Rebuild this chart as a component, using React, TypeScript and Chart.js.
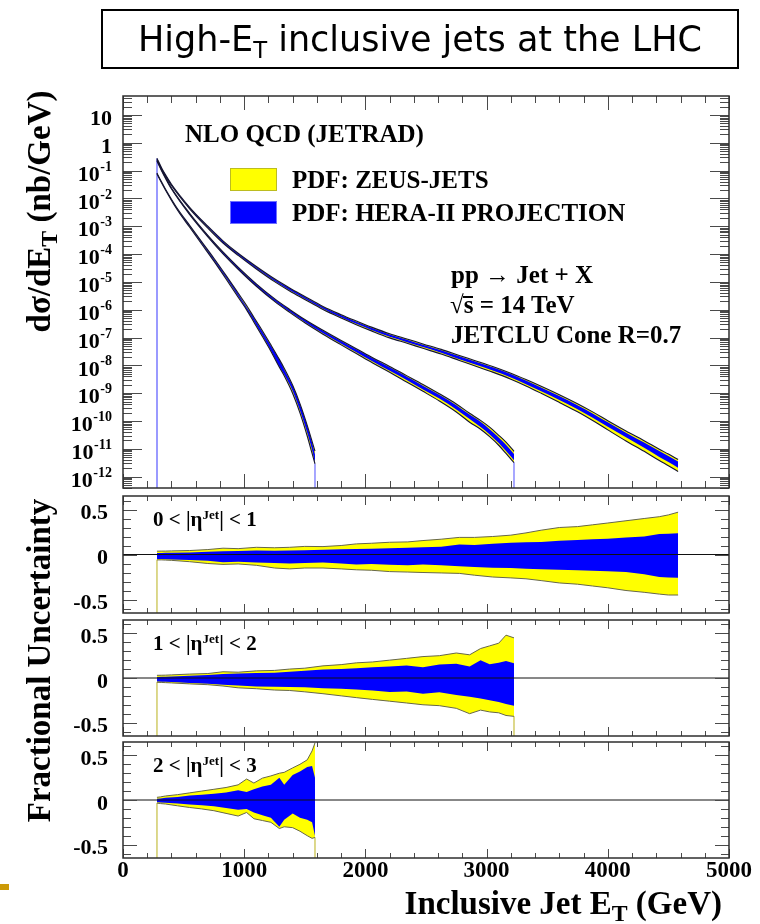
import { useEffect, useRef } from "react";
import { Chart, registerables } from "chart.js";

Chart.register(...registerables);

// ---------------- axis ticks ----------------
const xTicks = [0, 1000, 2000, 3000, 4000, 5000];
const xTickLabels = ["0", "1000", "2000", "3000", "4000", "5000"];
const decadeExponents = [1, 0, -1, -2, -3, -4, -5, -6, -7, -8, -9, -10, -11, -12];
const fracTicks = [0.5, 0, -0.5];
const fracTickLabels = ["0.5", "0", "-0.5"];

// ---------------- 0 < |eta| < 1 ----------------
const etEta01 = [280, 320, 350, 400, 550, 700, 825, 950, 1100, 1250, 1375, 1500, 1650, 1800, 1925, 2050, 2200, 2350, 2475, 2625, 2775, 2900, 3050, 3200, 3325, 3450, 3600, 3750, 3875, 4000, 4150, 4300, 4425, 4500, 4580];
const xsecEta01 = [2.7e-1, 1.17e-1, 6.9e-2, 3.1e-2, 4.6e-3, 9.5e-4, 2.8e-4, 1.0e-4, 3.3e-5, 1.2e-5, 5.6e-6, 2.75e-6, 1.2e-6, 6.0e-7, 3.5e-7, 2.1e-7, 1.2e-7, 7.6e-8, 5.1e-8, 3.2e-8, 1.9e-8, 1.26e-8, 7.6e-9, 4.3e-9, 2.5e-9, 1.4e-9, 6.8e-10, 3.2e-10, 1.6e-10, 7.6e-11, 3.2e-11, 1.4e-11, 6.8e-12, 4.5e-12, 2.8e-12];
const zeusUpEta01 = [0.037, 0.038, 0.038, 0.040, 0.044, 0.055, 0.070, 0.065, 0.080, 0.075, 0.080, 0.090, 0.088, 0.100, 0.118, 0.125, 0.136, 0.140, 0.155, 0.170, 0.190, 0.190, 0.200, 0.215, 0.240, 0.270, 0.300, 0.310, 0.330, 0.350, 0.375, 0.400, 0.420, 0.440, 0.470];
const heraUpEta01 = [0.018, 0.018, 0.019, 0.020, 0.022, 0.030, 0.037, 0.040, 0.044, 0.042, 0.044, 0.048, 0.052, 0.058, 0.060, 0.065, 0.070, 0.075, 0.080, 0.085, 0.110, 0.105, 0.120, 0.130, 0.136, 0.140, 0.154, 0.160, 0.170, 0.175, 0.190, 0.200, 0.228, 0.230, 0.235];
const heraDnEta01 = [-0.050, -0.050, -0.052, -0.055, -0.060, -0.070, -0.085, -0.080, -0.090, -0.095, -0.100, -0.095, -0.090, -0.100, -0.110, -0.105, -0.115, -0.120, -0.110, -0.120, -0.130, -0.140, -0.147, -0.150, -0.158, -0.165, -0.170, -0.175, -0.180, -0.185, -0.195, -0.220, -0.250, -0.255, -0.257];
const zeusDnEta01 = [-0.060, -0.060, -0.062, -0.065, -0.080, -0.100, -0.110, -0.105, -0.120, -0.150, -0.160, -0.150, -0.150, -0.160, -0.170, -0.175, -0.190, -0.195, -0.200, -0.205, -0.210, -0.230, -0.250, -0.260, -0.270, -0.290, -0.316, -0.330, -0.350, -0.370, -0.400, -0.420, -0.440, -0.450, -0.450];

// ---------------- 1 < |eta| < 2 ----------------
const etEta12 = [280, 320, 350, 400, 550, 700, 825, 950, 1100, 1250, 1375, 1500, 1650, 1800, 1925, 2060, 2200, 2340, 2475, 2610, 2750, 2860, 2950, 3025, 3100, 3160, 3226];
const xsecEta12 = [2.3e-1, 1.0e-1, 5.6e-2, 2.3e-2, 2.8e-3, 4.5e-4, 1.12e-4, 3.2e-5, 7.9e-6, 2.3e-6, 9.3e-7, 4.0e-7, 1.6e-7, 6.8e-8, 3.4e-8, 1.6e-8, 7.6e-9, 3.5e-9, 1.66e-9, 7.6e-10, 3.2e-10, 1.5e-10, 7.9e-11, 4.4e-11, 2.2e-11, 1.17e-11, 5.6e-12];
const zeusUpEta12 = [0.030, 0.031, 0.032, 0.035, 0.044, 0.050, 0.070, 0.065, 0.080, 0.085, 0.100, 0.110, 0.136, 0.150, 0.170, 0.180, 0.200, 0.220, 0.240, 0.250, 0.280, 0.260, 0.330, 0.360, 0.390, 0.480, 0.450];
const heraUpEta12 = [0.012, 0.013, 0.015, 0.018, 0.026, 0.035, 0.044, 0.050, 0.055, 0.060, 0.070, 0.080, 0.095, 0.100, 0.110, 0.120, 0.130, 0.140, 0.120, 0.150, 0.160, 0.130, 0.200, 0.155, 0.170, 0.190, 0.165];
const heraDnEta12 = [-0.040, -0.041, -0.042, -0.045, -0.055, -0.065, -0.077, -0.085, -0.095, -0.098, -0.100, -0.105, -0.114, -0.120, -0.130, -0.140, -0.158, -0.150, -0.176, -0.160, -0.190, -0.210, -0.230, -0.250, -0.270, -0.290, -0.310];
const zeusDnEta12 = [-0.048, -0.050, -0.052, -0.055, -0.066, -0.075, -0.090, -0.110, -0.120, -0.135, -0.140, -0.155, -0.176, -0.200, -0.220, -0.240, -0.260, -0.280, -0.300, -0.310, -0.340, -0.400, -0.360, -0.380, -0.390, -0.420, -0.430];

// ---------------- 2 < |eta| < 3 ----------------
const etEta23 = [280, 310, 350, 450, 550, 650, 750, 850, 950, 1020, 1080, 1150, 1220, 1290, 1330, 1400, 1460, 1520, 1560, 1584];
const xsecEta23 = [7.9e-2, 4.4e-2, 2.1e-2, 4.0e-3, 1.0e-3, 2.5e-4, 6.3e-5, 1.5e-5, 3.4e-6, 1.15e-6, 4.5e-7, 1.41e-7, 4.3e-8, 1.26e-8, 6.0e-9, 1.41e-9, 3.0e-10, 4.8e-11, 1.2e-11, 5.0e-12];
const zeusUpEta23 = [0.030, 0.035, 0.045, 0.060, 0.080, 0.100, 0.120, 0.140, 0.170, 0.235, 0.190, 0.245, 0.270, 0.300, 0.310, 0.360, 0.400, 0.450, 0.550, 0.640];
const heraUpEta23 = [0.015, 0.018, 0.025, 0.035, 0.050, 0.060, 0.070, 0.085, 0.110, 0.090, 0.120, 0.150, 0.170, 0.250, 0.170, 0.280, 0.320, 0.370, 0.380, 0.250];
const heraDnEta23 = [-0.025, -0.027, -0.030, -0.040, -0.050, -0.060, -0.070, -0.090, -0.110, -0.100, -0.140, -0.170, -0.200, -0.300, -0.220, -0.150, -0.200, -0.220, -0.250, -0.400];
const zeusDnEta23 = [-0.035, -0.040, -0.045, -0.065, -0.084, -0.100, -0.120, -0.150, -0.180, -0.140, -0.210, -0.230, -0.250, -0.320, -0.300, -0.310, -0.350, -0.400, -0.430, -0.420];

// ---------------- layout & style ----------------
const W = 760;
const H = 924;
const SERIF = "'Liberation Serif', 'Times New Roman', Times, serif";
const YELLOW = "#ffff00";
const BLUE = "#0000ff";
const TOP_Y_MIN = 3.9e-13;
const TOP_Y_MAX = 48;
const FRAC_MIN = -0.65;
const FRAC_MAX = 0.65;

const AREA_TOP = { left: 123, top: 96, right: 729, bottom: 488 };
const AREA_P1 = { left: 123, top: 496, right: 729, bottom: 613 };
const AREA_P2 = { left: 123, top: 620, right: 729, bottom: 736 };
const AREA_P3 = { left: 123, top: 742, right: 729, bottom: 858 };

// Frame, inward ticks on all four sides and the tick labels, placed with the chart's scales.
const axisFrame = {
  id: "axisFrame",
  afterDatasetsDraw(chart: any, _args: any, opts: any) {
    const { ctx, chartArea: a } = chart;
    const xs = chart.scales.x;
    const ys = chart.scales.y;
    const seg = (x1: number, y1: number, x2: number, y2: number) => {
      ctx.beginPath();
      ctx.moveTo(x1, y1);
      ctx.lineTo(x2, y2);
      ctx.stroke();
    };
    ctx.save();
    ctx.strokeStyle = "#4a4a4a";
    ctx.lineWidth = 1;
    for (let v = 0; v <= 5000; v += 200) {
      const px = Math.round(xs.getPixelForValue(v)) + 0.5;
      const len = v % 1000 === 0 ? opts.xMajor : opts.xMinor;
      seg(px, a.top, px, a.top + len);
      seg(px, a.bottom, px, a.bottom - len);
    }
    if (opts.log) {
      for (let d = -13; d <= 1; d++) {
        for (let k = 1; k <= 9; k++) {
          const v = k * Math.pow(10, d);
          if (v < ys.min || v > ys.max) continue;
          const py = Math.round(ys.getPixelForValue(v)) + 0.5;
          const len = k === 1 ? opts.yMajor : opts.yMinor;
          seg(a.left, py, a.left + len, py);
          seg(a.right, py, a.right - len, py);
        }
      }
    } else {
      for (let i = -6; i <= 6; i++) {
        const py = Math.round(ys.getPixelForValue(i / 10)) + 0.5;
        const len = i % 5 === 0 ? opts.yMajor : opts.yMinor;
        seg(a.left, py, a.left + len, py);
        seg(a.right, py, a.right - len, py);
      }
    }
    ctx.strokeStyle = "#2e2e2e";
    ctx.lineWidth = 1.5;
    ctx.strokeRect(a.left, a.top, a.right - a.left, a.bottom - a.top);

    ctx.fillStyle = "#000";
    ctx.textBaseline = "middle";
    ctx.textAlign = "right";
    const baseFont = `bold 22px ${SERIF}`;
    const supFont = `bold 14px ${SERIF}`;
    if (opts.log) {
      const right = a.left - 11;
      decadeExponents.forEach((e) => {
        const py = ys.getPixelForValue(Math.pow(10, e)) + 4.5;
        if (e >= 0) {
          ctx.font = baseFont;
          ctx.fillText(e === 1 ? "10" : "1", right, py);
        } else {
          const sup = String(e);
          ctx.font = supFont;
          const ws = ctx.measureText(sup).width;
          ctx.fillText(sup, right, py - 8);
          ctx.font = baseFont;
          ctx.fillText("10", right - ws - 0.5, py);
        }
      });
    } else {
      ctx.font = baseFont;
      fracTicks.forEach((v, i) => {
        ctx.fillText(fracTickLabels[i], a.left - 15, ys.getPixelForValue(v) + 4);
      });
    }
    if (opts.xLabels) {
      ctx.font = `bold 23px ${SERIF}`;
      ctx.textAlign = "center";
      xTicks.forEach((v, i) => {
        ctx.fillText(xTickLabels[i], xs.getPixelForValue(v), a.bottom + 13);
      });
    }
    ctx.restore();
  },
};

function pts(et: number[], vals: number[]) {
  return et.map((x, i) => ({ x, y: vals[i] }));
}

function scaled(xsec: number[], frac: number[]) {
  return xsec.map((v, i) => v * (1 + frac[i]));
}

// Filled band between two edges: the upper edge fills down to the next dataset.
function band(et: number[], lo: number[], hi: number[], color: string, order: number, smooth: boolean) {
  const common = {
    pointRadius: 0,
    borderWidth: 1,
    borderColor: "rgba(0,0,0,0)",
    cubicInterpolationMode: smooth ? "monotone" : "default",
    order,
  };
  return [
    { ...common, data: pts(et, hi), fill: "+1", backgroundColor: color },
    { ...common, data: pts(et, lo), fill: false },
  ];
}

function edge(et: number[], vals: number[], color: string, width: number, order: number, smooth: boolean) {
  return {
    data: pts(et, vals),
    borderColor: color,
    borderWidth: width,
    pointRadius: 0,
    fill: false,
    cubicInterpolationMode: smooth ? "monotone" : "default",
    order,
  };
}

function vline(x: number, y0: number, y1: number, color: string, order: number) {
  return {
    data: [{ x, y: y0 }, { x, y: y1 }],
    borderColor: color,
    borderWidth: 1,
    pointRadius: 0,
    fill: false,
    order,
  };
}

// Zero reference line across the full E_T range.
function zeroLine() {
  return {
    data: [{ x: 0, y: 0 }, { x: 5000, y: 0 }],
    borderColor: "#111",
    borderWidth: 1,
    pointRadius: 0,
    fill: false,
    order: 2,
  };
}

function baseConfig(area: any, yScale: any, datasets: any[], frameOpts: any) {
  return {
    type: "line",
    data: { datasets },
    options: {
      animation: false,
      responsive: false,
      devicePixelRatio: 1,
      events: [],
      layout: {
        padding: { left: area.left, top: area.top, right: W - area.right, bottom: H - area.bottom },
      },
      scales: {
        x: { type: "linear", min: 0, max: 5000, display: false },
        y: { ...yScale, display: false },
      },
      plugins: {
        legend: { display: false },
        tooltip: { enabled: false },
        axisFrame: frameOpts,
      },
    },
    plugins: [axisFrame],
  };
}

type Bin = {
  et: number[];
  xsec: number[];
  zUp: number[];
  zDn: number[];
  hUp: number[];
  hDn: number[];
  endLine: boolean;
};

const binEta01: Bin = { et: etEta01, xsec: xsecEta01, zUp: zeusUpEta01, zDn: zeusDnEta01, hUp: heraUpEta01, hDn: heraDnEta01, endLine: false };
const binEta12: Bin = { et: etEta12, xsec: xsecEta12, zUp: zeusUpEta12, zDn: zeusDnEta12, hUp: heraUpEta12, hDn: heraDnEta12, endLine: true };
const binEta23: Bin = { et: etEta23, xsec: xsecEta23, zUp: zeusUpEta23, zDn: zeusDnEta23, hUp: heraUpEta23, hDn: heraDnEta23, endLine: true };
const allBins = [binEta01, binEta12, binEta23];

function buildSpectrum() {
  const ds: any[] = [];
  allBins.forEach((b) => ds.push(...band(b.et, scaled(b.xsec, b.zDn), scaled(b.xsec, b.zUp), YELLOW, 6, true)));
  allBins.forEach((b) => ds.push(...band(b.et, scaled(b.xsec, b.hDn), scaled(b.xsec, b.hUp), BLUE, 5, true)));
  allBins.forEach((b) => {
    ds.push(vline(b.et[0], b.xsec[0], TOP_Y_MIN, "#9a9aff", 4));
    const n = b.et.length - 1;
    if (b.endLine) ds.push(vline(b.et[n], b.xsec[n] * (1 + b.zDn[n]), TOP_Y_MIN, "#9a9aff", 4));
  });
  allBins.forEach((b) => {
    ds.push(edge(b.et, scaled(b.xsec, b.zUp), "#141432", 1.1, 3, true));
    ds.push(edge(b.et, scaled(b.xsec, b.zDn), "#141432", 1.1, 3, true));
  });
  return baseConfig(
    AREA_TOP,
    { type: "logarithmic", min: TOP_Y_MIN, max: TOP_Y_MAX },
    ds,
    { log: true, xMajor: 14, xMinor: 7, yMajor: 19, yMinor: 9, xLabels: false }
  );
}

function buildFraction(area: any, b: Bin, xLabels: boolean) {
  const ds: any[] = [];
  ds.push(...band(b.et, b.zDn, b.zUp, YELLOW, 6, false));
  ds.push(...band(b.et, b.hDn, b.hUp, BLUE, 5, false));
  ds.push(vline(b.et[0], b.zDn[0], FRAC_MIN, "#d8d27c", 4));
  const n = b.et.length - 1;
  if (b.endLine) ds.push(vline(b.et[n], b.zDn[n], FRAC_MIN, "#d8d27c", 4));
  ds.push(edge(b.et, b.zUp, "#66664a", 1, 3, false));
  ds.push(edge(b.et, b.zDn, "#66664a", 1, 3, false));
  ds.push(zeroLine());
  return baseConfig(
    area,
    { type: "linear", min: FRAC_MIN, max: FRAC_MAX },
    ds,
    { log: false, xMajor: 9, xMinor: 5, yMajor: 14, yMinor: 8, xLabels }
  );
}

function PlotCanvas({ build }: { build: () => any }) {
  const ref = useRef<HTMLCanvasElement>(null);
  useEffect(() => {
    const chart = new Chart(ref.current as HTMLCanvasElement, build());
    return () => chart.destroy();
  }, []);
  return (
    <canvas
      ref={ref}
      width={W}
      height={H}
      style={{ position: "absolute", left: 0, top: 0, width: W, height: H, pointerEvents: "none" }}
    />
  );
}

function Txt({ x, base, size, align = "left", children }: any) {
  const style: any = {
    position: "absolute",
    top: base - 0.8375 * size,
    fontSize: size,
    lineHeight: `${size}px`,
    fontFamily: SERIF,
    fontWeight: "bold",
    whiteSpace: "nowrap",
    color: "#000",
  };
  if (align === "left") style.left = x;
  else style.right = W - x;
  return <div style={style}>{children}</div>;
}

function VTitle({ cx, cy, size, children }: any) {
  const L = 440;
  return (
    <div
      style={{
        position: "absolute",
        left: cx - L / 2,
        top: cy - size / 2,
        width: L,
        height: size,
        lineHeight: `${size}px`,
        textAlign: "center",
        transform: "rotate(-90deg)",
        fontSize: size,
        fontFamily: SERIF,
        fontWeight: "bold",
        whiteSpace: "nowrap",
        color: "#000",
      }}
    >
      {children}
    </div>
  );
}

const subT = (
  <span style={{ fontSize: "0.72em", position: "relative", top: "0.28em" }}>T</span>
);

function EtaLabel({ base, lo, hi }: any) {
  return (
    <Txt x={153} base={base} size={21}>
      {lo} &lt; |η
      <span style={{ fontSize: "0.62em", position: "relative", top: "-0.6em" }}>Jet</span>| &lt; {hi}
    </Txt>
  );
}

export default function App() {
  return (
    <div
      style={{
        position: "absolute",
        left: 0,
        top: 0,
        width: W,
        height: H,
        background: "#fff",
        overflow: "hidden",
      }}
    >
      <PlotCanvas build={buildSpectrum} />
      <PlotCanvas build={() => buildFraction(AREA_P1, binEta01, false)} />
      <PlotCanvas build={() => buildFraction(AREA_P2, binEta12, false)} />
      <PlotCanvas build={() => buildFraction(AREA_P3, binEta23, true)} />

      {/* title box */}
      <div
        style={{
          position: "absolute",
          left: 101,
          top: 9,
          width: 638,
          height: 60,
          boxSizing: "border-box",
          border: "2px solid #000",
          display: "flex",
          alignItems: "center",
          justifyContent: "center",
          fontFamily: "'Comic Sans MS', 'DejaVu Sans', sans-serif",
          fontSize: 35,
          color: "#000",
          whiteSpace: "nowrap",
        }}
      >
        <span>
          High-E
          <span style={{ fontSize: "0.65em", position: "relative", top: "0.3em" }}>T</span> inclusive jets at the LHC
        </span>
      </div>

      {/* spectrum panel annotations */}
      <Txt x={185} base={142} size={25}>NLO QCD (JETRAD)</Txt>
      <div style={{ position: "absolute", left: 230, top: 168, width: 47, height: 23, boxSizing: "border-box", background: YELLOW, border: "1px solid #bcbc20" }} />
      <div style={{ position: "absolute", left: 230, top: 201, width: 47, height: 23, boxSizing: "border-box", background: BLUE, border: "1px solid #7070ff" }} />
      <Txt x={292} base={188} size={25}>PDF: ZEUS-JETS</Txt>
      <Txt x={292} base={221} size={25}>PDF: HERA-II PROJECTION</Txt>
      <Txt x={451} base={283} size={25}>pp → Jet + X</Txt>
      <Txt x={450} base={313} size={25}>
        √
        <span style={{ position: "relative" }}>
          s
          <span style={{ position: "absolute", left: -1, right: 0, top: "0.2em", height: 1.5, background: "#000" }} />
        </span>{" "}
        = 14 TeV
      </Txt>
      <Txt x={451} base={343} size={25}>JETCLU Cone R=0.7</Txt>

      {/* rapidity bins */}
      <EtaLabel base={527} lo="0" hi="1" />
      <EtaLabel base={651} lo="1" hi="2" />
      <EtaLabel base={773} lo="2" hi="3" />

      {/* axis titles */}
      <VTitle cx={39} cy={211} size={33}>
        dσ/dE{subT} (nb/GeV)
      </VTitle>
      <VTitle cx={39} cy={660} size={33}>
        Fractional Uncertainty
      </VTitle>
      <Txt x={722} base={915} size={33} align="right">
        Inclusive Jet E{subT} (GeV)
      </Txt>

      <div style={{ position: "absolute", left: 0, top: 884, width: 9, height: 6, background: "#cc9a06" }} />
    </div>
  );
}
